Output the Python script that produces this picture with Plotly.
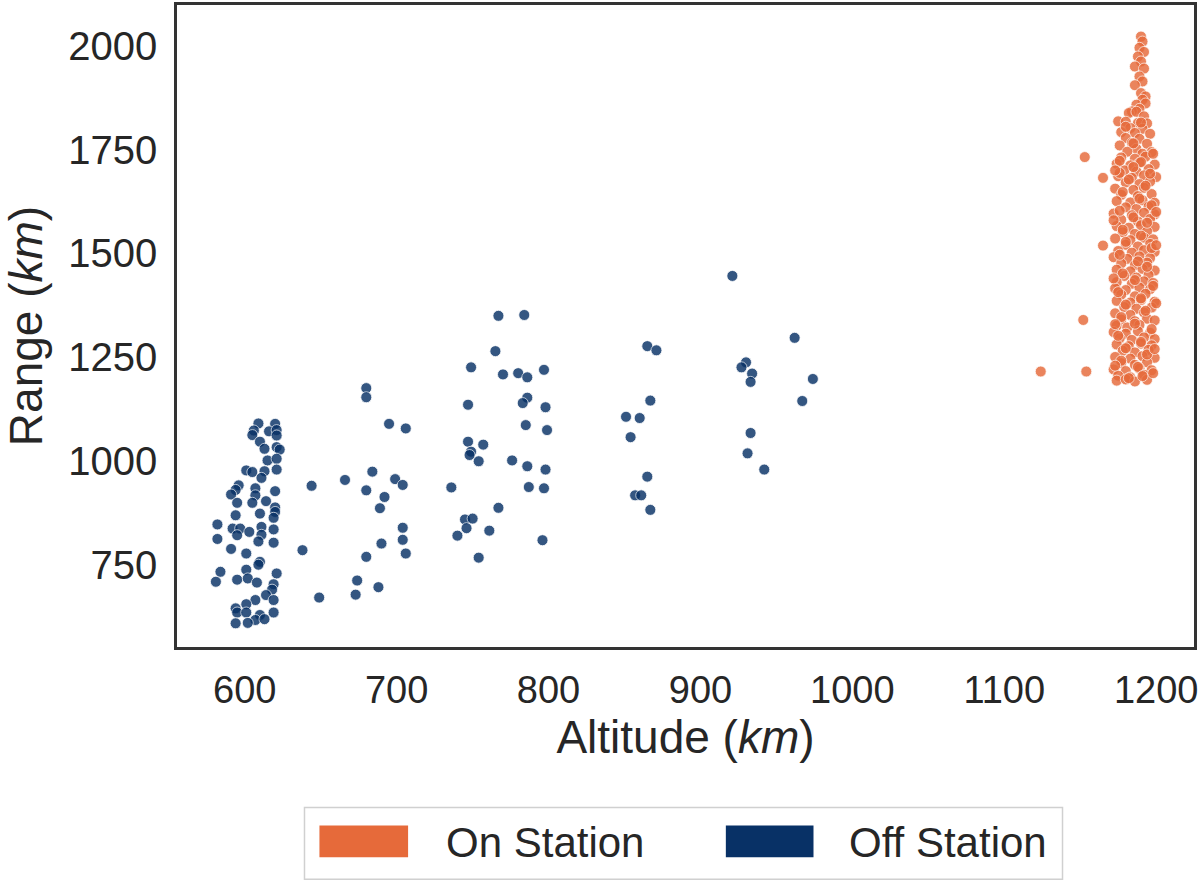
import plotly.graph_objects as go

# ---------------- data ----------------
categories = ["On Station", "Off Station"]
colors = ["#E66A3A", "#083166"]

off_alt = [
    # dense column near 600 km
    609, 620, 606, 605, 616, 621, 621, 610, 613, 621, 623, 615, 621, 621, 601, 605,
    613, 611, 596, 594, 591, 607, 607, 620, 595, 605, 614, 620, 620, 594, 610, 619,
    582, 592, 597, 603, 611, 619, 611, 582, 595, 609, 619, 591, 601, 610, 609, 621,
    601, 584, 581, 595, 602, 608, 619, 618, 614, 607, 619, 601, 594, 595, 601, 619,
    610, 607, 594, 602, 613,
    # 640-710 km
    680, 680, 695, 706, 684, 666, 699, 704, 644, 680, 692, 689, 704, 704, 690, 706,
    680, 638, 674, 673, 688, 649,
    # 735-800 km
    767, 784, 765, 749, 770, 780, 786, 797, 747, 786, 783, 798, 785, 799, 747, 757,
    749, 748, 754, 776, 786, 798, 787, 797, 736, 767, 745, 750, 746, 740, 761, 754, 796,
    # 850-875 km
    865, 871, 867, 851, 860, 854, 865, 857, 861, 867,
    # 920-975 km
    921, 962, 930, 927, 934, 933, 974, 967, 933, 931, 942,
]
off_rng = [
    1091, 1090, 1074, 1063, 1072, 1075, 1062, 1047, 1030, 1034, 1028, 1002, 1006, 980, 978, 974,
    976, 960, 942, 931, 920, 935, 918, 928, 900, 900, 904, 889, 878, 870, 874, 864,
    848, 838, 838, 830, 842, 836, 823, 813, 822, 807, 804, 789, 778, 758, 751, 730,
    739, 734, 710, 715, 718, 708, 704, 691, 678, 666, 666, 656, 646, 636, 636, 636,
    630, 618, 610, 611, 620,
    1176, 1154, 1090, 1079, 975, 955, 957, 943, 941, 930, 914, 887, 840, 811, 802, 778,
    770, 786, 713, 679, 697, 672,
    1350, 1352, 1265, 1226, 1209, 1212, 1202, 1220, 1136, 1153, 1140, 1130, 1087, 1075, 1047, 1040,
    1023, 1015, 1000, 1002, 988, 980, 938, 935, 937, 888, 860, 862, 839, 821, 833, 768, 810,
    1277, 1267, 1146, 1107, 1104, 1058, 963, 918, 918, 883,
    1446, 1297, 1238, 1226, 1211, 1191, 1198, 1145, 1068, 1019, 980,
]

on_alt = [
    # upper tail
    1190, 1191, 1189, 1192, 1188, 1190, 1186, 1192, 1189, 1191, 1186, 1190, 1193, 1191, 1187, 1193,
    1189, 1184,
    # widening
    1182, 1187, 1192, 1175, 1180, 1188, 1194, 1183, 1191, 1177, 1186, 1196, 1180, 1189, 1184, 1194,
    1176, 1187, 1181, 1197, 1191,
    # main body
    1177, 1186, 1193, 1174, 1183, 1189, 1199, 1179, 1187, 1195, 1175, 1184, 1192, 1200,
    1180, 1189, 1196, 1173, 1185, 1192, 1177, 1188, 1197, 1174, 1183, 1191, 1199,
    1180, 1187, 1195, 1172, 1184, 1192, 1199, 1177, 1188, 1196, 1174, 1182, 1190, 1199,
    1178, 1186, 1194, 1173, 1183, 1192, 1198, 1180, 1188, 1196, 1175, 1184, 1192, 1199,
    1172, 1181, 1189, 1196, 1177, 1186, 1194, 1174, 1183, 1191, 1199, 1179, 1187, 1195,
    1174, 1184, 1192, 1198, 1173, 1180, 1189, 1196, 1177, 1186, 1193, 1174, 1183, 1190, 1199,
    1179, 1187, 1197, 1173, 1183, 1192, 1177, 1186, 1194, 1199, 1174, 1181, 1189,
    1172, 1180, 1188, 1196, 1176, 1184, 1192, 1199, 1174, 1182, 1190, 1197, 1178, 1186, 1195,
    1173, 1183, 1191, 1199, 1177, 1186, 1194, 1172, 1180, 1189, 1197, 1175, 1183, 1192,
    1174, 1180, 1186, 1194,
    # fill-in
    1176, 1190, 1185, 1196, 1176, 1182, 1193, 1178, 1189, 1197, 1176, 1185, 1194, 1178, 1190, 1180,
    1197, 1176, 1188, 1194, 1178, 1186, 1198, 1175, 1190, 1180, 1193, 1177, 1186, 1197, 1175, 1190,
    1180, 1194, 1177, 1188, 1198, 1182, 1191, 1173, 1199, 1173, 1200, 1172, 1200, 1172, 1200, 1173,
    1198, 1185, 1180, 1190,
    # outliers
    1153, 1165, 1165, 1152, 1124, 1154,
]
on_rng = [
    2022, 2010, 1995, 1985, 1974, 1962, 1950, 1945, 1926, 1914, 1905, 1886, 1878, 1870, 1858, 1861,
    1848, 1842,
    1838, 1841, 1830, 1818, 1817, 1814, 1813, 1802, 1800, 1792, 1790, 1788, 1778, 1776, 1766, 1764,
    1760, 1752, 1745, 1744, 1740,
    1731, 1728, 1733, 1716, 1712, 1718, 1714, 1700, 1697, 1703, 1686, 1682, 1688, 1684,
    1671, 1667, 1673, 1656, 1653, 1658, 1641, 1638, 1643, 1626, 1623, 1628, 1622,
    1611, 1607, 1613, 1596, 1592, 1598, 1594, 1581, 1577, 1583, 1566, 1562, 1568, 1564,
    1551, 1547, 1553, 1536, 1532, 1538, 1534, 1521, 1517, 1523, 1506, 1502, 1508, 1504,
    1491, 1487, 1493, 1489, 1476, 1472, 1478, 1461, 1457, 1463, 1459, 1446, 1442, 1448,
    1431, 1427, 1433, 1429, 1416, 1412, 1418, 1414, 1401, 1397, 1403, 1386, 1382, 1388, 1384,
    1371, 1367, 1370, 1356, 1352, 1358, 1341, 1337, 1343, 1339, 1326, 1322, 1328,
    1311, 1307, 1313, 1309, 1296, 1292, 1298, 1294, 1281, 1277, 1283, 1279, 1266, 1262, 1268,
    1251, 1247, 1253, 1249, 1236, 1232, 1238, 1221, 1217, 1223, 1219, 1206, 1202, 1208,
    1194, 1197, 1192, 1196,
    1723, 1720, 1708, 1692, 1694, 1678, 1663, 1648, 1632, 1616, 1603, 1587, 1574, 1557, 1543, 1528,
    1513, 1497, 1481, 1468, 1452, 1436, 1422, 1407, 1392, 1377, 1362, 1347, 1331, 1318, 1302, 1287,
    1272, 1257, 1242, 1227, 1212, 1200, 1205, 1230, 1270, 1330, 1380, 1440, 1520, 1580, 1600, 1700,
    1740, 1765, 1805, 1815,
    1732, 1682, 1519, 1340, 1216, 1216,
]

x_ticks = [600, 700, 800, 900, 1000, 1100, 1200]
y_ticks = [750, 1000, 1250, 1500, 1750, 2000]

FONT = "Liberation Sans, Arial, sans-serif"
TXT = "#262626"

fig = go.Figure()
for name, color, xs, ys in [
    (categories[0], colors[0], on_alt, on_rng),
    (categories[1], colors[1], off_alt, off_rng),
]:
    fig.add_trace(go.Scatter(
        x=xs, y=ys, mode="markers", name=name, showlegend=False,
        marker=dict(size=11, color=color, opacity=0.82,
                    line=dict(color="white", width=0.8)),
    ))

axis_common = dict(
    showgrid=False, zeroline=False, showline=True, mirror=True,
    linecolor="#333333", linewidth=2.5, ticks="",
)

fig.update_xaxes(range=[555.4, 1224.9], tickvals=x_ticks, ticklabelstandoff=8,
                 ticklabeloverflow="allow",
                 tickfont=dict(family=FONT, size=38, color=TXT),
                 title=dict(text="Altitude (<i>km</i>)", font=dict(family=FONT, size=46, color=TXT),
                            standoff=6),
                 **axis_common)
fig.update_yaxes(range=[553, 2098], tickvals=y_ticks, ticklabelstandoff=9,
                 tickfont=dict(family=FONT, size=40, color=TXT),
                 title=dict(text="Range (<i>km</i>)", font=dict(family=FONT, size=46, color=TXT),
                            standoff=20),
                 **axis_common)

# custom legend (rectangular swatches like the reference)
L, R, T, B = 177, 1198, 3, 647
def px(X):
    return (X - L) / (R - L)
def py(Y):
    return (B - Y) / (B - T)

shapes = [dict(type="rect", xref="paper", yref="paper",
               x0=px(305), x1=px(1066), y0=py(880), y1=py(808),
               line=dict(color="#D0D0D0", width=1.5), fillcolor="white", layer="above")]
annotations = []
for (name, color, sx0, sx1, tx) in [
    (categories[0], colors[0], 320, 409, 445),
    (categories[1], colors[1], 728, 816, 850),
]:
    shapes.append(dict(type="rect", xref="paper", yref="paper",
                       x0=px(sx0), x1=px(sx1), y0=py(858), y1=py(826),
                       line=dict(width=0), fillcolor=color, layer="above"))
    annotations.append(dict(xref="paper", yref="paper", x=px(tx), y=py(843),
                            text=name, showarrow=False, xanchor="left", yanchor="middle",
                            font=dict(family=FONT, size=42, color=TXT)))

fig.update_layout(
    width=1200, height=885,
    margin=dict(l=L, r=1200 - R, t=T, b=885 - B),
    plot_bgcolor="white", paper_bgcolor="white",
    shapes=shapes, annotations=annotations,
    showlegend=False,
)

fig.write_html("out.html")
